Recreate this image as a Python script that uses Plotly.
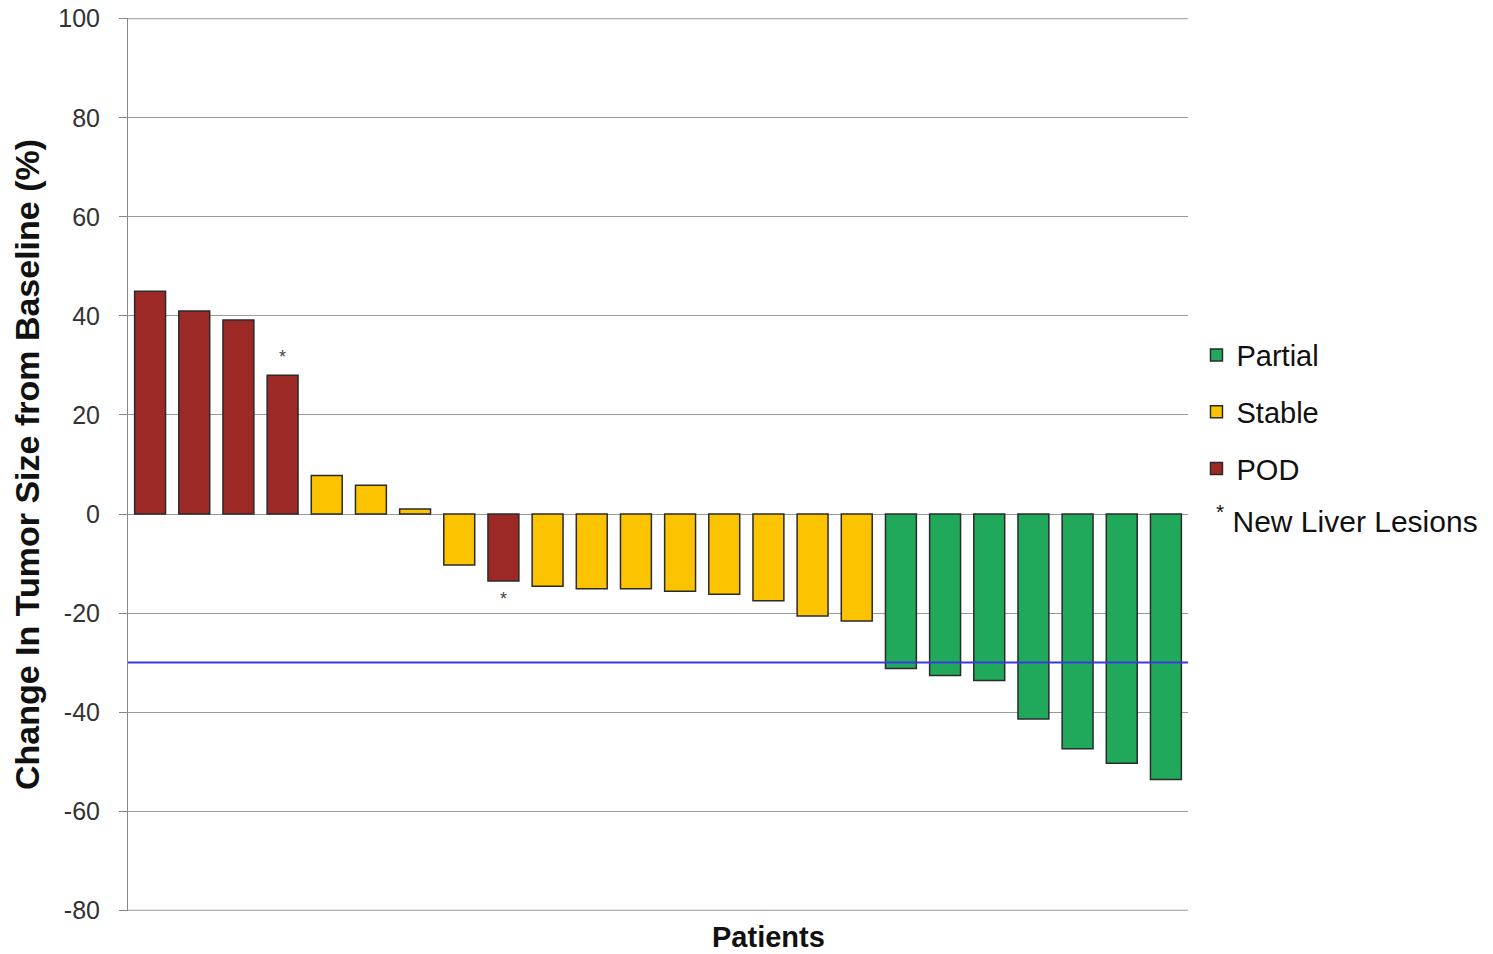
import plotly.graph_objects as go

values = [45, 41, 39.2, 28, 7.8, 5.8, 1, -10.3, -13.5, -14.6, -15.1, -15.1, -15.6, -16.2,
          -17.5, -20.6, -21.6, -31.2, -32.6, -33.6, -41.4, -47.4, -50.3, -53.6]
response = ["POD", "POD", "POD", "POD", "Stable", "Stable", "Stable", "Stable", "POD",
            "Stable", "Stable", "Stable", "Stable", "Stable", "Stable", "Stable", "Stable",
            "Partial", "Partial", "Partial", "Partial", "Partial", "Partial", "Partial"]
new_liver_lesions = [False, False, False, True, False, False, False, False, True,
                     False, False, False, False, False, False, False, False,
                     False, False, False, False, False, False, False]
categories = ["Partial", "Stable", "POD"]
colors = {"Partial": "#20a95a", "Stable": "#fcc400", "POD": "#9c2926"}
threshold = -30
y_ticks = [100, 80, 60, 40, 20, 0, -20, -40, -60, -80]
y_tick_labels = [str(t) for t in y_ticks]  # hyphen minus like the reference

FONT = "Liberation Sans"
GRID = "#9a9a9a"
x = list(range(len(values)))
fig = go.Figure()
for cat in categories:
    xs = [xi for xi, r in zip(x, response) if r == cat]
    ys = [v for v, r in zip(values, response) if r == cat]
    fig.add_trace(go.Bar(
        x=xs, y=ys, name=cat, width=0.7,
        marker=dict(color=colors[cat], line=dict(color="#2a2a2a", width=1.5)),
        legendgroup=cat,
    ))

# asterisks for new liver lesions
ast_x, ast_y = [], []
for xi, v, f in zip(x, values, new_liver_lesions):
    if f:
        ast_x.append(xi)
        ast_y.append(v + 3.5 if v > 0 else v - 4)
fig.add_trace(go.Scatter(x=ast_x, y=ast_y, mode="text", text=["*"] * len(ast_x),
                         textfont=dict(size=18, color="#444444", family=FONT),
                         showlegend=False, hoverinfo="skip"))

# gridlines at the axis extremes (plotly skips them at the range edges)
for yv in (y_ticks[0], y_ticks[-1]):
    fig.add_shape(type="line", xref="paper", x0=0, x1=1, yref="y", y0=yv, y1=yv,
                  line=dict(color=GRID, width=1), layer="below")

fig.add_shape(type="line", xref="paper", x0=0, x1=1, yref="y", y0=threshold, y1=threshold,
              line=dict(color="#3a3ae0", width=2))

fig.add_annotation(xref="paper", yref="paper", x=1.0245, y=0.4387, xanchor="left", yanchor="middle",
                   text="<sup>*</sup> New Liver Lesions", showarrow=False,
                   font=dict(size=30, family=FONT, color="#111111"))

fig.add_annotation(xref="paper", yref="paper", x=0.604, y=-0.029, xanchor="center", yanchor="middle",
                   text="<b>Patients</b>", showarrow=False,
                   font=dict(size=29, family=FONT, color="#111111"))

fig.update_layout(
    width=1485, height=946,
    margin=dict(l=120, r=305, t=10, b=43, autoexpand=False),
    plot_bgcolor="white", paper_bgcolor="white",
    showlegend=True,
    legend=dict(x=1.008, y=0.651, xanchor="left", yanchor="top",
                font=dict(size=29, family=FONT, color="#111111"),
                tracegroupgap=16, itemwidth=30, bgcolor="rgba(0,0,0,0)"),
    xaxis=dict(range=[-0.5, len(values) - 0.5], showticklabels=False, ticks="",
               showgrid=False, zeroline=False, showline=False, automargin=False),
    yaxis=dict(range=[y_ticks[-1] - 0.15, y_ticks[0] + 0.15], tickvals=y_ticks, ticktext=y_tick_labels,
               ticks="outside", ticklen=8, tickcolor="#888888", ticklabelstandoff=14,
               ticklabeloverflow="allow",
               showgrid=True, gridcolor=GRID, gridwidth=1, automargin=False,
               zeroline=False, showline=True, linecolor="#888888", linewidth=1,
               tickfont=dict(size=25, family=FONT, color="#333333"),
               title=dict(text="<b>Change In Tumor Size from Baseline (%)</b>", standoff=40,
                          font=dict(size=34, family=FONT, color="#111111"))),
)

fig.write_html("out.html")
